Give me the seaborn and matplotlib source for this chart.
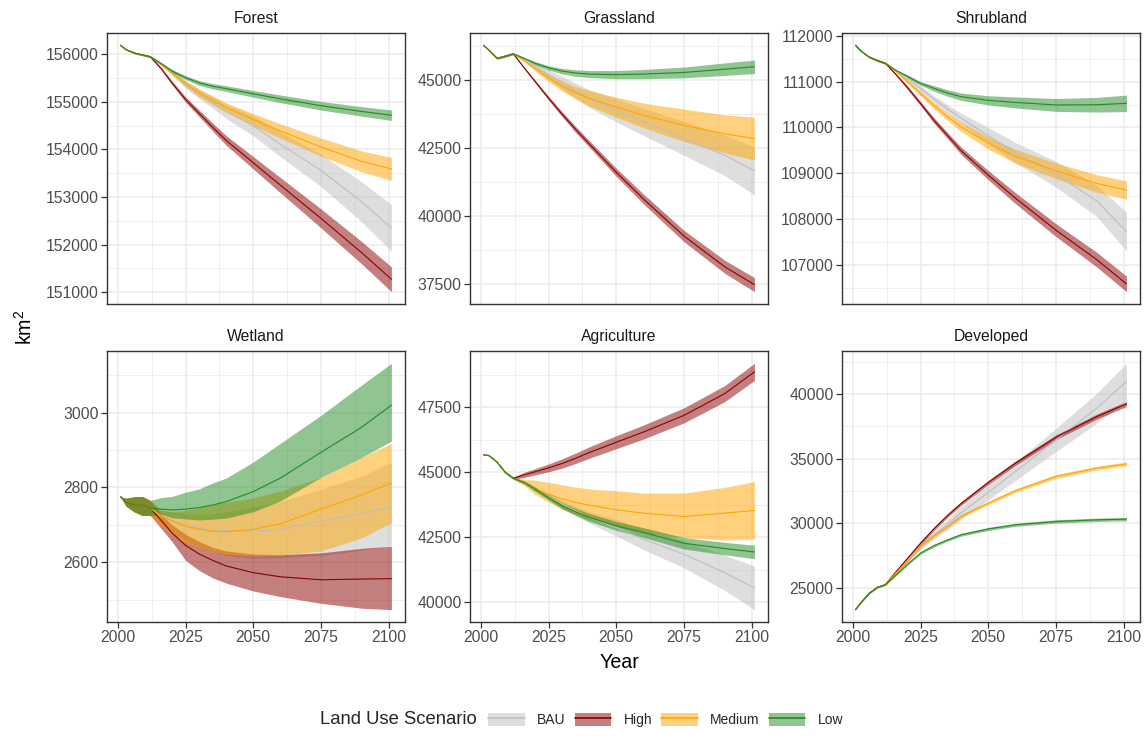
import pandas as pd
import matplotlib
matplotlib.use("Agg")
import matplotlib.pyplot as plt
import seaborn as sns
from matplotlib.ticker import MultipleLocator, StrMethodFormatter
from matplotlib.patches import Patch
from matplotlib.lines import Line2D

# historic part is shared by all scenarios, projections branch after 2012
hist_years = [2001, 2003, 2006, 2009, 2012]
proj_years = [2016, 2020, 2025, 2030, 2035, 2040, 2050, 2060, 2075, 2090, 2101]

scenarios = ["BAU", "High", "Medium", "Low"]
panels = ["Forest", "Grassland", "Shrubland", "Wetland", "Agriculture", "Developed"]

# ---- Forest (mean, half width of ribbon)
forest_hist_mid = [156190, 156100, 156030, 155990, 155950]
forest_hist_half = [0, 10, 15, 15, 20]
forest_bau_mid = [155805, 155610, 155370, 155175, 154990, 154800, 154500, 154110, 153560, 152900, 152350]
forest_bau_half = [25, 50, 80, 100, 120, 150, 210, 260, 340, 420, 490]
forest_high_mid = [155700, 155400, 155050, 154760, 154470, 154190, 153720, 153250, 152550, 151830, 151270]
forest_high_half = [25, 40, 55, 70, 85, 100, 130, 160, 200, 235, 260]
forest_med_mid = [155790, 155610, 155385, 155190, 155035, 154880, 154630, 154390, 154050, 153750, 153590]
forest_med_half = [25, 40, 60, 80, 90, 100, 125, 150, 190, 220, 240]
forest_low_mid = [155805, 155650, 155510, 155400, 155330, 155280, 155170, 155065, 154920, 154800, 154720]
forest_low_half = [25, 35, 40, 50, 55, 60, 70, 80, 90, 100, 110]

# ---- Grassland
grass_hist_mid = [46280, 46100, 45800, 45880, 45970]
grass_hist_half = [0, 15, 25, 30, 30]
grass_bau_mid = [45780, 45520, 45200, 44900, 44600, 44320, 43880, 43460, 42850, 42230, 41650]
grass_bau_half = [40, 100, 170, 230, 280, 330, 420, 500, 620, 750, 880]
grass_high_mid = [45450, 44950, 44330, 43740, 43180, 42650, 41600, 40620, 39250, 38120, 37460]
grass_high_half = [30, 50, 70, 90, 110, 120, 150, 180, 210, 240, 260]
grass_med_mid = [45720, 45420, 45080, 44780, 44530, 44330, 44000, 43700, 43330, 43020, 42840]
grass_med_half = [40, 80, 130, 180, 230, 280, 370, 450, 600, 700, 790]
grass_low_mid = [45800, 45620, 45450, 45330, 45260, 45220, 45200, 45220, 45280, 45400, 45490]
grass_low_half = [40, 60, 80, 100, 120, 130, 150, 170, 200, 230, 250]

# ---- Shrubland
shrub_hist_mid = [111790, 111665, 111535, 111460, 111400]
shrub_hist_half = [0, 10, 15, 20, 20]
shrub_bau_mid = [111240, 111080, 110850, 110620, 110400, 110200, 109820, 109450, 108980, 108400, 107730]
shrub_bau_half = [20, 40, 60, 70, 90, 110, 180, 220, 280, 340, 420]
shrub_high_mid = [111150, 110880, 110520, 110150, 109820, 109490, 108960, 108460, 107760, 107120, 106590]
shrub_high_half = [20, 40, 45, 60, 65, 80, 100, 120, 140, 160, 170]
shrub_med_mid = [111220, 111010, 110740, 110475, 110230, 110010, 109660, 109370, 109055, 108780, 108635]
shrub_med_half = [20, 40, 50, 70, 80, 100, 130, 150, 170, 190, 200]
shrub_low_mid = [111240, 111120, 110960, 110850, 110750, 110670, 110590, 110545, 110490, 110495, 110525]
shrub_low_half = [20, 30, 40, 60, 70, 80, 100, 120, 140, 160, 180]

# ---- Wetland (ribbons are lopsided here, so lower / upper edges)
wet_hist_mid = [2775, 2760, 2753, 2753, 2744]
wet_hist_lo = [2775, 2750, 2735, 2725, 2725]
wet_hist_hi = [2775, 2771, 2775, 2776, 2765]
wet_bau_mid = [2724, 2712, 2700, 2692, 2686, 2684, 2683, 2688, 2710, 2730, 2746]
wet_bau_lo = [2700, 2680, 2660, 2640, 2628, 2618, 2610, 2612, 2618, 2632, 2645]
wet_bau_hi = [2740, 2735, 2730, 2728, 2730, 2735, 2748, 2762, 2795, 2830, 2867]
wet_high_mid = [2712, 2678, 2645, 2622, 2605, 2590, 2572, 2561, 2553, 2555, 2556]
wet_high_lo = [2690, 2655, 2605, 2578, 2558, 2544, 2523, 2508, 2490, 2477, 2473]
wet_high_hi = [2728, 2700, 2675, 2655, 2640, 2630, 2622, 2620, 2625, 2637, 2643]
wet_med_mid = [2724, 2710, 2696, 2688, 2683, 2682, 2688, 2703, 2742, 2780, 2812]
wet_med_lo = [2697, 2674, 2652, 2639, 2628, 2621, 2617, 2619, 2630, 2665, 2706]
wet_med_hi = [2738, 2735, 2738, 2745, 2755, 2760, 2772, 2790, 2827, 2880, 2918]
wet_low_mid = [2742, 2740, 2742, 2746, 2753, 2762, 2789, 2825, 2894, 2961, 3020]
wet_low_lo = [2728, 2719, 2716, 2713, 2715, 2718, 2735, 2764, 2827, 2880, 2924]
wet_low_hi = [2773, 2776, 2787, 2796, 2812, 2825, 2868, 2918, 2993, 3074, 3132]

# ---- Agriculture
agri_hist_mid = [45670, 45645, 45390, 45000, 44770]
agri_hist_half = [0, 10, 20, 30, 40]
agri_bau_mid = [44610, 44355, 44070, 43775, 43520, 43260, 42870, 42420, 41840, 41130, 40545]
agri_bau_half = [60, 80, 110, 150, 180, 220, 320, 400, 520, 680, 840]
agri_high_mid = [44900, 45020, 45170, 45340, 45540, 45760, 46160, 46550, 47195, 48030, 48870]
agri_high_half = [100, 120, 150, 180, 200, 220, 250, 270, 290, 310, 330]
agri_med_mid = [44610, 44355, 44160, 43970, 43840, 43735, 43555, 43425, 43295, 43425, 43530]
agri_med_lo = [44500, 44160, 43850, 43580, 43370, 43190, 42910, 42680, 42480, 42390, 42420]
agri_med_hi = [44720, 44700, 44610, 44520, 44430, 44355, 44290, 44200, 44200, 44420, 44640]
agri_low_mid = [44610, 44355, 44030, 43710, 43475, 43260, 42935, 42680, 42265, 42060, 41930]
agri_low_half = [60, 80, 100, 120, 135, 150, 170, 190, 220, 240, 260]

# ---- Developed
dev_hist_mid = [23300, 23840, 24560, 25025, 25230]
dev_hist_half = [0, 20, 30, 40, 40]
dev_bau_mid = [26200, 27100, 28250, 29100, 29900, 30800, 32380, 34000, 36440, 38890, 40950]
dev_bau_half = [80, 150, 250, 320, 400, 470, 570, 700, 900, 1150, 1420]
dev_high_mid = [26250, 27230, 28450, 29575, 30600, 31520, 33150, 34640, 36650, 38245, 39225]
dev_high_half = [80, 100, 120, 130, 140, 150, 160, 170, 180, 190, 200]
dev_med_mid = [26150, 27000, 28200, 29030, 29750, 30540, 31550, 32510, 33610, 34250, 34585]
dev_med_half = [60, 80, 100, 100, 110, 120, 130, 140, 150, 150, 150]
dev_low_mid = [26000, 26780, 27680, 28260, 28700, 29100, 29550, 29870, 30130, 30255, 30310]
dev_low_half = [60, 80, 90, 100, 100, 110, 120, 120, 130, 130, 130]


def band(mid, half):
    return mid, [m - h for m, h in zip(mid, half)], [m + h for m, h in zip(mid, half)]


hist = {
    "Forest": band(forest_hist_mid, forest_hist_half),
    "Grassland": band(grass_hist_mid, grass_hist_half),
    "Shrubland": band(shrub_hist_mid, shrub_hist_half),
    "Wetland": (wet_hist_mid, wet_hist_lo, wet_hist_hi),
    "Agriculture": band(agri_hist_mid, agri_hist_half),
    "Developed": band(dev_hist_mid, dev_hist_half),
}
proj = {
    ("Forest", "BAU"): band(forest_bau_mid, forest_bau_half),
    ("Forest", "High"): band(forest_high_mid, forest_high_half),
    ("Forest", "Medium"): band(forest_med_mid, forest_med_half),
    ("Forest", "Low"): band(forest_low_mid, forest_low_half),
    ("Grassland", "BAU"): band(grass_bau_mid, grass_bau_half),
    ("Grassland", "High"): band(grass_high_mid, grass_high_half),
    ("Grassland", "Medium"): band(grass_med_mid, grass_med_half),
    ("Grassland", "Low"): band(grass_low_mid, grass_low_half),
    ("Shrubland", "BAU"): band(shrub_bau_mid, shrub_bau_half),
    ("Shrubland", "High"): band(shrub_high_mid, shrub_high_half),
    ("Shrubland", "Medium"): band(shrub_med_mid, shrub_med_half),
    ("Shrubland", "Low"): band(shrub_low_mid, shrub_low_half),
    ("Wetland", "BAU"): (wet_bau_mid, wet_bau_lo, wet_bau_hi),
    ("Wetland", "High"): (wet_high_mid, wet_high_lo, wet_high_hi),
    ("Wetland", "Medium"): (wet_med_mid, wet_med_lo, wet_med_hi),
    ("Wetland", "Low"): (wet_low_mid, wet_low_lo, wet_low_hi),
    ("Agriculture", "BAU"): band(agri_bau_mid, agri_bau_half),
    ("Agriculture", "High"): band(agri_high_mid, agri_high_half),
    ("Agriculture", "Medium"): (agri_med_mid, agri_med_lo, agri_med_hi),
    ("Agriculture", "Low"): band(agri_low_mid, agri_low_half),
    ("Developed", "BAU"): band(dev_bau_mid, dev_bau_half),
    ("Developed", "High"): band(dev_high_mid, dev_high_half),
    ("Developed", "Medium"): band(dev_med_mid, dev_med_half),
    ("Developed", "Low"): band(dev_low_mid, dev_low_half),
}

rows = []
for (p, s), (m, lo, hi) in proj.items():
    hm, hl, hh = hist[p]
    yrs = hist_years + proj_years
    for y, a, b, c in zip(yrs, list(hm) + list(m), list(hl) + list(lo), list(hh) + list(hi)):
        rows.append((p, s, y, a, b, c))
df = pd.DataFrame(rows, columns=["panel", "scenario", "year", "mid", "lo", "hi"])

line_col = {"BAU": "#BEBEBE", "High": "#8B0000", "Medium": "#FFA500", "Low": "#228B22"}
ystep = {"Forest": 1000, "Grassland": 2500, "Shrubland": 1000,
         "Wetland": 200, "Agriculture": 2500, "Developed": 5000}

sns.set_theme(style="whitegrid")
plt.rcParams["font.family"] = ["Liberation Sans", "DejaVu Sans"]
plt.rcParams["mathtext.fontset"] = "custom"
plt.rcParams["mathtext.rm"] = "Liberation Sans"
plt.rcParams["mathtext.it"] = "Liberation Sans:italic"

W, H = 1148, 738
fig = plt.figure(figsize=(W / 100, H / 100), dpi=100)
cols_x = [(107, 405), (470, 768), (842, 1140)]
rows_y = [(33, 304), (351, 622)]

for i, p in enumerate(panels):
    r, c = divmod(i, 3)
    x0, x1 = cols_x[c]
    y0, y1 = rows_y[r]
    ax = fig.add_axes([x0 / W, 1 - y1 / H, (x1 - x0) / W, (y1 - y0) / H])
    sub = df[df.panel == p]
    for s in scenarios:
        d = sub[sub.scenario == s]
        ax.fill_between(d.year, d.lo, d.hi, color=line_col[s], alpha=0.5, lw=0)
    sns.lineplot(data=sub, x="year", y="mid", hue="scenario", hue_order=scenarios,
                 palette=line_col, errorbar=None, legend=False, lw=0.8, ax=ax)
    lo, hi = sub.lo.min(), sub.hi.max()
    pad = (hi - lo) * 0.05
    ax.set_ylim(lo - pad, hi + pad)
    ax.set_xlim(1996, 2106)
    ax.xaxis.set_major_locator(MultipleLocator(25))
    ax.xaxis.set_minor_locator(MultipleLocator(12.5))
    ax.yaxis.set_major_locator(MultipleLocator(ystep[p]))
    ax.yaxis.set_minor_locator(MultipleLocator(ystep[p] / 2))
    ax.yaxis.set_major_formatter(StrMethodFormatter("{x:.0f}"))
    ax.grid(which="major", color="#EBEBEB", lw=1.1)
    ax.grid(which="minor", color="#EBEBEB", lw=0.55)
    ax.set_axisbelow(True)
    for sp in ax.spines.values():
        sp.set_color("#333333")
        sp.set_linewidth(1.0)
    ax.tick_params(which="major", direction="out", length=4, width=0.9, color="#333333",
                   labelsize=11.3, labelcolor="#4D4D4D", pad=2, left=True, bottom=True)
    ax.tick_params(which="minor", length=0)
    if r == 0:
        ax.tick_params(axis="x", which="both", bottom=False, labelbottom=False)
    ax.set_xlabel("")
    ax.set_ylabel("")
    ax.set_title(p, fontsize=11.3, color="#1A1A1A", pad=7)

fig.text(25 / W, 1 - 327 / H, "km$^{\\mathregular{2}}$", rotation=90, ha="center", va="center",
         fontsize=14.1, color="black")
fig.text(619 / W, 1 - 663 / H, "Year", ha="center", va="center", fontsize=14.1, color="black")

fig.text(320 / W, 1 - 720 / H, "Land Use Scenario", ha="left", va="center", fontsize=13.3)
handles = [(Patch(facecolor=line_col[s], alpha=0.5, edgecolor="none"),
            Line2D([], [], color=line_col[s], lw=1.2)) for s in scenarios]
fig.legend(handles, scenarios, loc="center left", bbox_to_anchor=(488 / W, 1 - 720 / H),
           ncol=4, frameon=False, fontsize=10, handlelength=2.66, handleheight=1.08,
           handletextpad=0.86, columnspacing=0.65, borderpad=0, borderaxespad=0)

fig.savefig("out.png", dpi=100)
